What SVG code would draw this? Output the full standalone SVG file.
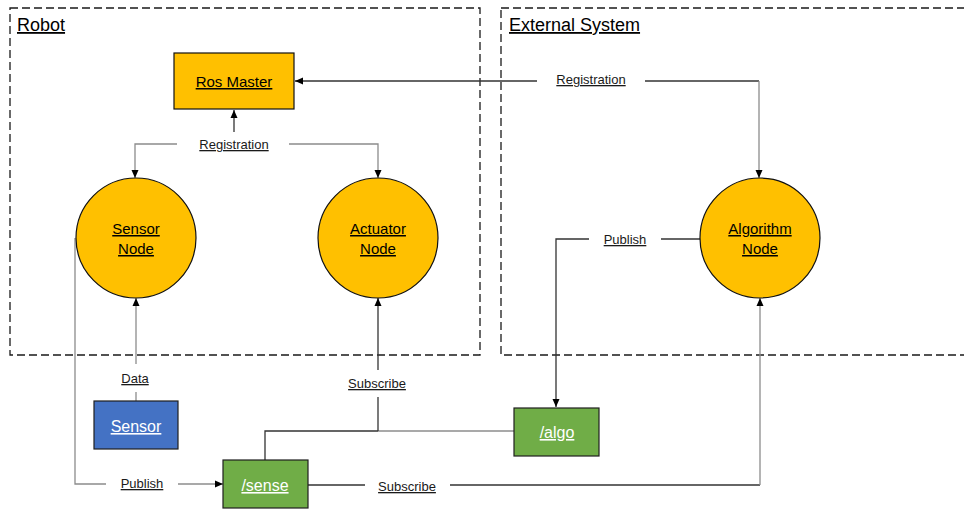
<svg xmlns="http://www.w3.org/2000/svg" width="964" height="509" viewBox="0 0 964 509">
  <style>
    text { font-family: "Liberation Sans", Arial, sans-serif; text-decoration: underline; }
    .title { font-size: 18px; fill: #000; }
    .node { font-size: 15px; fill: #000; text-anchor: middle; }
    .topic { font-size: 16px; fill: #fff; text-anchor: middle; }
    .lbl { font-size: 13px; fill: #1a1a1a; text-anchor: middle; }
    .boundary { fill: none; stroke: #1a1a1a; stroke-width: 1.3; stroke-dasharray: 8 4; }
    .c { fill: none; stroke: #333; stroke-width: 1.3; }
    .g { fill: none; stroke: #8c8c8c; stroke-width: 1.3; }
    .orange { fill: #FFC000; stroke: #111; stroke-width: 1.2; }
  </style>
  <defs>
    <marker id="arrow" viewBox="0 0 8 8" refX="8" refY="4" markerWidth="8" markerHeight="8" markerUnits="userSpaceOnUse" orient="auto">
      <path d="M0,0.5 L8,4 L0,7.5 z" fill="#000"/>
    </marker>
  </defs>
  <rect width="964" height="509" fill="#fff"/>

  <!-- system boundaries -->
  <g id="robot">
    <rect class="boundary" x="10" y="8" width="470" height="347"/>
    <text class="title" x="17" y="31">Robot</text>
  </g>
  <g id="external-system">
    <rect class="boundary" x="501" y="8" width="480" height="347"/>
    <text class="title" x="509" y="31">External System</text>
  </g>

  <!-- connectors -->
  <g id="connectors">
    <!-- registration with the master -->
    <path class="c" d="M234,132 V110" marker-end="url(#arrow)"/>
    <path class="g" d="M177,144 H135 V178" marker-end="url(#arrow)"/>
    <path class="g" d="M289,144 H378 V178" marker-end="url(#arrow)"/>
    <path class="c" d="M537,81 H295" marker-end="url(#arrow)"/>
    <path class="c" d="M645,81 H759"/>
    <path class="g" d="M759,81 V178" marker-end="url(#arrow)"/>
    <!-- algorithm publishes /algo -->
    <path class="c" d="M700,239 H661"/>
    <path class="c" d="M589,239 H556 V407" marker-end="url(#arrow)"/>
    <!-- sensor data -->
    <path class="g" d="M136,401 V392"/>
    <path class="g" d="M136,364 V298" marker-end="url(#arrow)"/>
    <!-- sensor node publishes /sense -->
    <path class="g" d="M75,238 V484 H106"/>
    <path class="g" d="M178,484 H223" marker-end="url(#arrow)"/>
    <!-- actuator subscribes -->
    <path class="c" d="M265,460 V431 H378"/>
    <path class="g" d="M378,431 H514"/>
    <path class="c" d="M378,431 V397"/>
    <path class="c" d="M378,370 V298" marker-end="url(#arrow)"/>
    <!-- algorithm subscribes -->
    <path class="c" d="M308,485 H365"/>
    <path class="c" d="M450,485 H760"/>
    <path class="g" d="M760,485 V298" marker-end="url(#arrow)"/>

    <text class="lbl" x="234" y="149">Registration</text>
    <text class="lbl" x="591" y="84">Registration</text>
    <text class="lbl" x="625" y="244">Publish</text>
    <text class="lbl" x="135" y="383">Data</text>
    <text class="lbl" x="142" y="488">Publish</text>
    <text class="lbl" x="377" y="388">Subscribe</text>
    <text class="lbl" x="407" y="491">Subscribe</text>
  </g>

  <!-- nodes -->
  <g id="ros-master">
    <rect class="orange" x="174" y="53" width="120" height="56"/>
    <text class="node" x="234" y="87">Ros Master</text>
  </g>
  <g id="sensor-node">
    <circle class="orange" cx="136" cy="238" r="60"/>
    <text class="node" x="136" y="234">Sensor</text>
    <text class="node" x="136" y="254">Node</text>
  </g>
  <g id="actuator-node">
    <circle class="orange" cx="378" cy="238" r="60"/>
    <text class="node" x="378" y="234">Actuator</text>
    <text class="node" x="378" y="254">Node</text>
  </g>
  <g id="algorithm-node">
    <circle class="orange" cx="760" cy="238" r="60"/>
    <text class="node" x="760" y="234">Algorithm</text>
    <text class="node" x="760" y="254">Node</text>
  </g>
  <g id="sensor">
    <rect x="94" y="401" width="84" height="48" fill="#4472C4" stroke="#1f1f1f" stroke-width="1.2"/>
    <text class="topic" x="136" y="432">Sensor</text>
  </g>
  <g id="sense-topic">
    <rect x="223" y="460" width="85" height="48" fill="#70AD47" stroke="#1f1f1f" stroke-width="1.2"/>
    <text class="topic" x="265" y="491">/sense</text>
  </g>
  <g id="algo-topic">
    <rect x="514" y="408" width="85" height="48" fill="#70AD47" stroke="#1f1f1f" stroke-width="1.2"/>
    <text class="topic" x="557" y="438">/algo</text>
  </g>
</svg>
